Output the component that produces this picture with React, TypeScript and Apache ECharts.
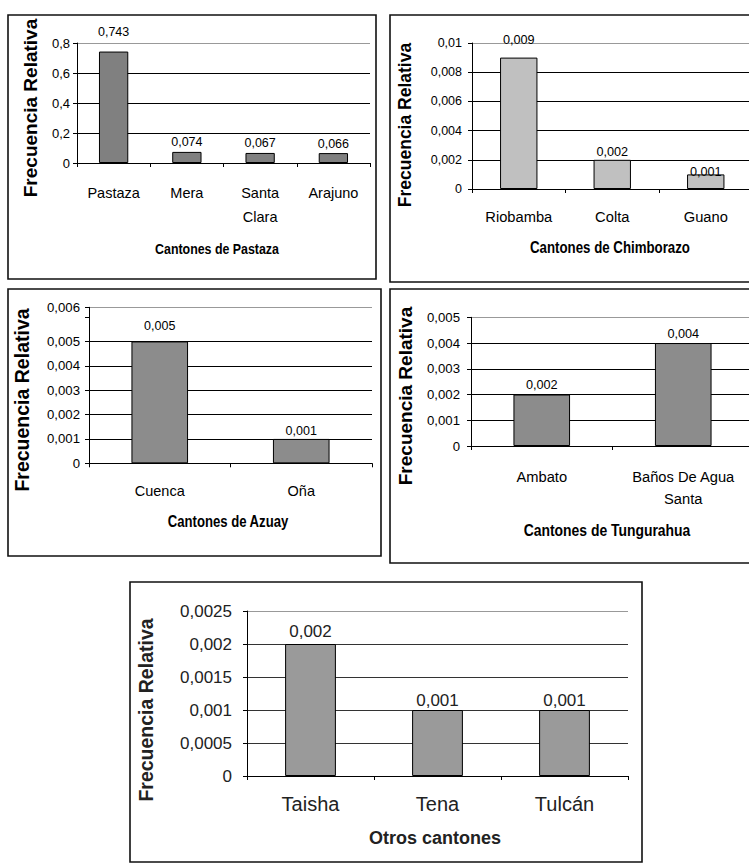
import React, { useEffect, useRef } from 'react';
import * as echarts from 'echarts';

// ---------- DATA ----------
const pastazaCategories = ['Pastaza', 'Mera', 'Santa\nClara', 'Arajuno'];
const pastazaValues = [0.743, 0.074, 0.067, 0.066];
const pastazaYTicks = [0, 0.2, 0.4, 0.6, 0.8];

const chimborazoCategories = ['Riobamba', 'Colta', 'Guano'];
const chimborazoValues = [0.009, 0.002, 0.001];
const chimborazoYTicks = [0, 0.002, 0.004, 0.006, 0.008, 0.01];

const azuayCategories = ['Cuenca', 'Oña'];
const azuayValues = [0.005, 0.001];
const azuayYTicks = [0, 0.001, 0.002, 0.003, 0.004, 0.005, 0.006];
const azuayYTop = 0.0064; // plot top (labelled "0,006" in the original)

const tungurahuaCategories = ['Ambato', 'Baños De Agua\nSanta'];
const tungurahuaValues = [0.002, 0.004];
const tungurahuaYTicks = [0, 0.001, 0.002, 0.003, 0.004, 0.005];

const otrosCategories = ['Taisha', 'Tena', 'Tulcán'];
const otrosValues = [0.002, 0.001, 0.001];
const otrosYTicks = [0, 0.0005, 0.001, 0.0015, 0.002, 0.0025];

const yTitle = 'Frecuencia Relativa';
const xTitles = ['Cantones de Pastaza', 'Cantones de Chimborazo', 'Cantones de Azuay', 'Cantones de Tungurahua', 'Otros cantones'];

// ---------- STYLE ----------
const SANS = '"Liberation Sans", Arial, sans-serif';

const fmtNum = (v: number) => String(+v.toFixed(6)).replace('.', ',');
const fmtLabel = (v: number) => v.toFixed(3).replace('.', ',');

interface Panel {
  cats: string[];
  vals: number[];
  ticks: number[];
  top?: number;
  box: [number, number, number, number];
  grid: { left: number; top: number; width: number; height: number };
  barColor: string;
  gridColor: string;
  tickSize: number;
  tickMargin: number;
  catSize: number;
  catLH: number;
  catMargin: number;
  dataSize: number;
  dist: number[];
  xTitle: { x: number; y: number; size: number; sx: number };
  yTitle: { x: number; y: number; size: number };
  textColor: string;
}

const panels: Panel[] = [
  {
    cats: pastazaCategories, vals: pastazaValues, ticks: pastazaYTicks,
    box: [8, 15, 368, 264],
    grid: { left: 77, top: 43, width: 293, height: 120 },
    barColor: '#808080', gridColor: '#000',
    tickSize: 13, tickMargin: 7, catSize: 14.5, catLH: 24, catMargin: 18, dataSize: 12.5,
    dist: [13, 3, 3, 3],
    xTitle: { x: 217, y: 248, size: 15.5, sx: 0.8 },
    yTitle: { x: 30, y: 108, size: 19 },
    textColor: '#000',
  },
  {
    cats: chimborazoCategories, vals: chimborazoValues, ticks: chimborazoYTicks,
    box: [390, 15, 380, 267],
    grid: { left: 472, top: 43, width: 280.5, height: 146 },
    barColor: '#c0c0c0', gridColor: '#000',
    tickSize: 12.5, tickMargin: 10, catSize: 14.7, catLH: 24, catMargin: 16, dataSize: 12.7,
    dist: [11, 1, -4],
    xTitle: { x: 610, y: 248, size: 16, sx: 0.83 },
    yTitle: { x: 405, y: 125, size: 17.5 },
    textColor: '#000',
  },
  {
    cats: azuayCategories, vals: azuayValues, ticks: azuayYTicks, top: azuayYTop,
    box: [8, 289, 373, 267],
    grid: { left: 89, top: 307.3, width: 283, height: 156 },
    barColor: '#8c8c8c', gridColor: '#000',
    tickSize: 13.2, tickMargin: 9, catSize: 14.5, catLH: 24, catMargin: 16, dataSize: 12.5,
    dist: [9, 1],
    xTitle: { x: 228, y: 522, size: 16, sx: 0.82 },
    yTitle: { x: 22, y: 400, size: 19.5 },
    textColor: '#000',
  },
  {
    cats: tungurahuaCategories, vals: tungurahuaValues, ticks: tungurahuaYTicks,
    box: [390, 289, 380, 274],
    grid: { left: 471, top: 317.3, width: 283, height: 128.7 },
    barColor: '#8c8c8c', gridColor: '#000',
    tickSize: 13.2, tickMargin: 11, catSize: 14.7, catLH: 22, catMargin: 20, dataSize: 12.7,
    dist: [3, 3],
    xTitle: { x: 607, y: 530, size: 16, sx: 0.87 },
    yTitle: { x: 405, y: 396, size: 19 },
    textColor: '#000',
  },
  {
    cats: otrosCategories, vals: otrosValues, ticks: otrosYTicks,
    box: [130, 582, 512, 280],
    grid: { left: 247, top: 611, width: 381, height: 165 },
    barColor: '#9a9a9a', gridColor: '#333',
    tickSize: 17, tickMargin: 15, catSize: 20, catLH: 20, catMargin: 18, dataSize: 17,
    dist: [4, 1, 1],
    xTitle: { x: 435, y: 838, size: 18, sx: 1 },
    yTitle: { x: 146, y: 710, size: 19.5 },
    textColor: '#222',
  },
];

function buildOption() {
  const grid: any[] = [];
  const xAxis: any[] = [];
  const yAxis: any[] = [];
  const series: any[] = [];
  const graphic: any[] = [];

  panels.forEach((p, i) => {
    const [bx, by, bw, bh] = p.box;
    graphic.push({
      type: 'rect', z: -10, silent: true,
      shape: { x: bx, y: by, width: bw, height: bh },
      style: { fill: '#fff', stroke: '#111', lineWidth: 1.6 },
    });
    graphic.push({
      type: 'text', silent: true,
      x: p.xTitle.x, y: p.xTitle.y, scaleX: p.xTitle.sx, scaleY: 1,
      style: {
        text: xTitles[i], fill: p.textColor, font: `bold ${p.xTitle.size}px ${SANS}`,
        align: 'center', verticalAlign: 'middle',
      },
    });
    graphic.push({
      type: 'text', silent: true,
      x: p.yTitle.x, y: p.yTitle.y, rotation: Math.PI / 2,
      style: {
        text: yTitle, fill: p.textColor, font: `bold ${p.yTitle.size}px ${SANS}`,
        align: 'center', verticalAlign: 'middle',
      },
    });

    grid.push({ ...p.grid, containLabel: false, outerBoundsMode: 'none' });

    const interval = p.ticks[1] - p.ticks[0];
    const maxTick = p.ticks[p.ticks.length - 1];
    const top = p.top ?? maxTick;
    const lineColors: string[] = p.ticks.map(() => p.gridColor);
    if (p.top !== undefined) {
      lineColors[lineColors.length - 1] = 'transparent';
      lineColors.push('#999');
    } else {
      lineColors[lineColors.length - 1] = '#999';
    }

    xAxis.push({
      type: 'category', gridIndex: i, data: p.cats,
      axisLine: { lineStyle: { color: '#000', width: 1 } },
      axisTick: { show: true, length: 4, lineStyle: { color: '#000' } },
      axisLabel: {
        color: p.textColor, fontFamily: SANS, fontSize: p.catSize,
        lineHeight: p.catLH, margin: p.catMargin, interval: 0,
      },
      splitLine: { show: false },
    });
    yAxis.push({
      type: 'value', gridIndex: i, min: 0, max: top, interval,
      axisLine: { show: true, lineStyle: { color: '#000', width: 1 } },
      axisTick: { show: true, length: 4, lineStyle: { color: '#000' } },
      axisLabel: {
        color: p.textColor, fontFamily: SANS, fontSize: p.tickSize, margin: p.tickMargin,
        showMaxLabel: true,
        formatter: (v: number) => {
          if (p.top !== undefined) {
            if (Math.abs(v - maxTick) < 1e-9) return '';
            if (Math.abs(v - p.top) < 1e-9) return fmtNum(maxTick);
          }
          return fmtNum(v);
        },
      },
      splitLine: { show: true, lineStyle: { color: lineColors, width: 1 } },
    });
    series.push({
      type: 'bar', xAxisIndex: i, yAxisIndex: i,
      barWidth: '40%',
      itemStyle: { color: p.barColor, borderColor: '#000', borderWidth: 1 },
      data: p.vals.map((v, k) => ({ value: v, label: { distance: p.dist[k] ?? 4 } })),
      label: {
        show: true, position: 'top', color: p.textColor,
        fontFamily: SANS, fontSize: p.dataSize,
        formatter: (d: any) => fmtLabel(d.value),
      },
    });
  });

  return {
    animation: false,
    backgroundColor: '#fff',
    grid, xAxis, yAxis, series, graphic,
  };
}

export default function App() {
  const ref = useRef<HTMLDivElement>(null);
  useEffect(() => {
    document.body.style.margin = '0';
    const chart = echarts.init(ref.current!, undefined, { renderer: 'svg' });
    chart.setOption(buildOption() as any);
    return () => chart.dispose();
  }, []);
  return <div ref={ref} style={{ width: 749, height: 867, position: 'absolute', left: 0, top: 0 }} />;
}
